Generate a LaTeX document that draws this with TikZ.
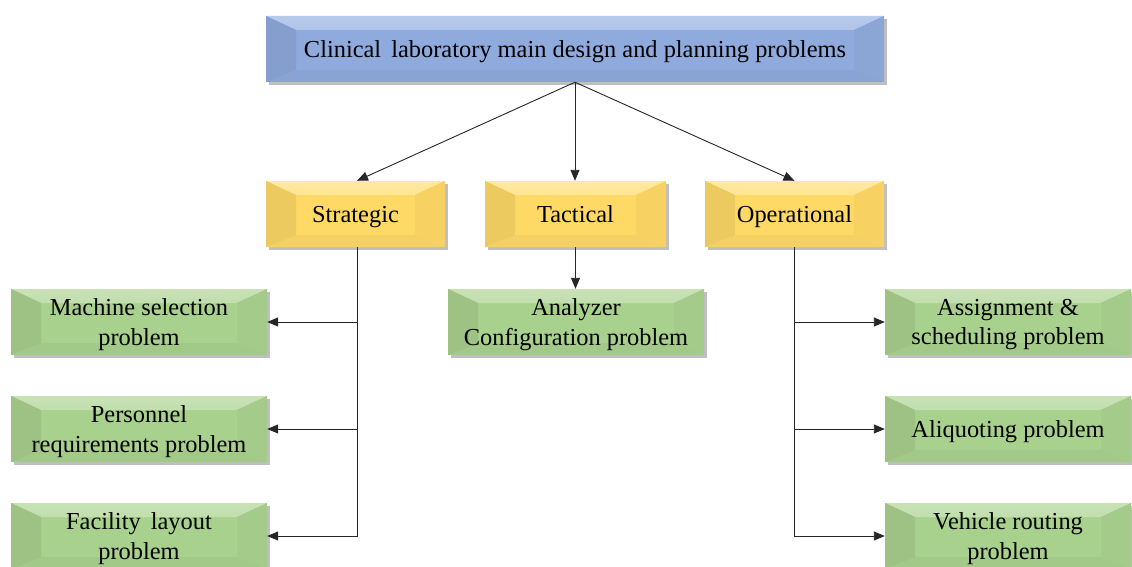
\documentclass[tikz,border=0pt]{standalone}
\usepackage{fontspec}
\setmainfont{Liberation Serif}
\usetikzlibrary{arrows.meta,shadows}
\definecolor{bluebase}{HTML}{8FAADC}
\definecolor{bluetop}{HTML}{B9CBEC}
\definecolor{yelbase}{HTML}{FFD966}
\definecolor{yeltop}{HTML}{FFE8A0}
\definecolor{grnbase}{HTML}{A9D18E}
\definecolor{grntop}{HTML}{C8E2B6}
\tikzset{
  facets/.style n args={2}{
    fill=#1,
    drop shadow={shadow xshift=2.5pt, shadow yshift=-3pt, fill=black, opacity=0.25},
    path picture={
      \shade[top color=#2, bottom color=#1] (path picture bounding box.north west) -- (path picture bounding box.north east)
        -- ([xshift=-30pt,yshift=-14pt]path picture bounding box.north east)
        -- ([xshift=30pt,yshift=-14pt]path picture bounding box.north west) -- cycle;
      \fill[#1!96!black] (path picture bounding box.south west) -- (path picture bounding box.south east)
        -- ([xshift=-30pt,yshift=12pt]path picture bounding box.south east)
        -- ([xshift=30pt,yshift=12pt]path picture bounding box.south west) -- cycle;
      \fill[#1!93!black] (path picture bounding box.north west) -- (path picture bounding box.south west)
        -- ([xshift=30pt,yshift=12pt]path picture bounding box.south west)
        -- ([xshift=30pt,yshift=-14pt]path picture bounding box.north west) -- cycle;
      \fill[#1!97!black] (path picture bounding box.north east) -- (path picture bounding box.south east)
        -- ([xshift=-30pt,yshift=12pt]path picture bounding box.south east)
        -- ([xshift=-30pt,yshift=-14pt]path picture bounding box.north east) -- cycle;
    }},
  boxbase/.style={rectangle, inner sep=0pt, minimum height=66pt, align=center, text depth=0pt,
    font=\fontsize{24.4}{29.5}\selectfont},
  bluebox/.style={boxbase, facets={bluebase}{bluetop}},
  yelbox/.style={boxbase, facets={yelbase}{yeltop}},
  grnbox/.style={boxbase, facets={grnbase}{grntop}},
  conn/.style={draw=black!85, line width=0.9pt, -{Triangle[length=11pt,width=9pt]}}
}
\begin{document}
\begin{tikzpicture}[x=1pt,y=-1pt]
\useasboundingbox (0,0) rectangle (1132,567);
\node[bluebox, minimum width=618pt] (top) at (575,49) {Clinical\hspace{4pt} laboratory main design and planning problems};
\node[yelbox, minimum width=179pt] (str) at (355.5,214) {Strategic};
\node[yelbox, minimum width=181pt] (tac) at (575.5,214) {Tactical};
\node[yelbox, minimum width=179pt] (ope) at (794.5,214) {Operational};
\node[grnbox, minimum width=256pt] (m1) at (139,322) {Machine selection\\problem};
\node[grnbox, minimum width=256pt] (m2) at (139,429) {Personnel\\requirements problem};
\node[grnbox, minimum width=256pt] (m3) at (139,536) {Facility\hspace{4pt} layout\\problem};
\node[grnbox, minimum width=256pt] (an) at (576,322) {Analyzer\\Configuration problem};
\node[grnbox, minimum width=246pt] (r1) at (1008,322) {Assignment \&\\scheduling problem};
\node[grnbox, minimum width=246pt] (r2) at (1008,429) {Aliquoting problem};
\node[grnbox, minimum width=246pt] (r3) at (1008,536) {Vehicle routing\\problem};
\draw[conn] (top.south) -- ([xshift=1.5pt]str.north);
\draw[conn] (top.south) -- (tac.north -| top.south);
\draw[conn] (top.south) -- (ope.north);
\draw[conn] (tac.south) -- (tac.south |- an.north);
\draw[conn] ([xshift=1.5pt]str.south) |- (m1.east);
\draw[conn] ([xshift=1.5pt]str.south) |- (m2.east);
\draw[conn] ([xshift=1.5pt]str.south) |- (m3.east);
\draw[conn] (ope.south) |- (r1.west);
\draw[conn] (ope.south) |- (r2.west);
\draw[conn] (ope.south) |- (r3.west);
\end{tikzpicture}
\end{document}
